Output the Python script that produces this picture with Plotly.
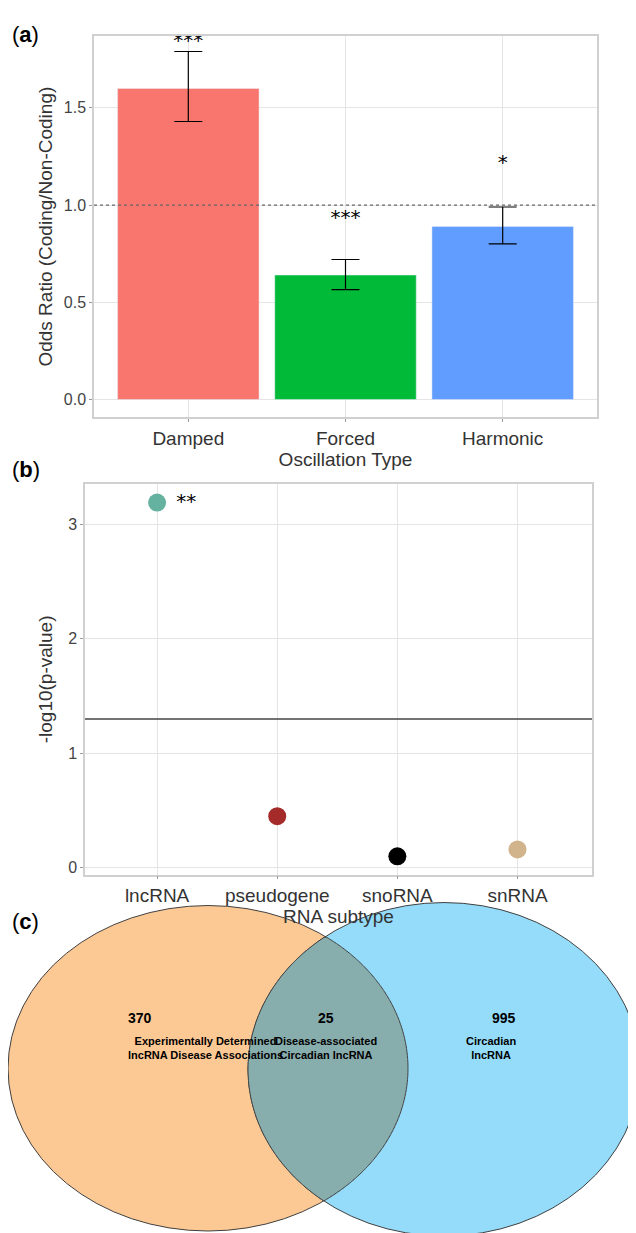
import numpy as np
import plotly.graph_objects as go

W, H = 636, 1233
# Panel a data
osc_types = ["Damped", "Forced", "Harmonic"]
odds = [1.60, 0.64, 0.89]
err_hi = [1.79, 0.72, 0.99]
err_lo = [1.43, 0.565, 0.80]
bar_colors = ["#F8766D", "#00BA38", "#619CFF"]
sig_a = ["***", "***", "*"]
sig_a_y = [1.84, 0.93, 1.21]

# Panel b data
subtypes = ["lncRNA", "pseudogene", "snoRNA", "snRNA"]
neglogp = [3.19, 0.45, 0.10, 0.16]
pt_colors = ["#66B2A0", "#A52A2A", "#000000", "#D2B48C"]
threshold = 1.3

# Panel c data
venn_counts = [370, 25, 995]
venn_labels = ["Experimentally Determined<br>lncRNA Disease Associations",
               "Disease-associated<br>Circadian lncRNA",
               "Circadian<br>lncRNA"]

def px(x): return x / W
def py(y): return 1 - y / H

FONT = "Liberation Sans"
fig = go.Figure()
fig.add_trace(go.Bar(x=osc_types, y=odds, marker_color=bar_colors, width=0.9,
                     error_y=dict(type="data", symmetric=False,
                                  array=[h - o for h, o in zip(err_hi, odds)],
                                  arrayminus=[o - l for l, o in zip(err_lo, odds)],
                                  color="black", thickness=1.2, width=14),
                     xaxis="x", yaxis="y", showlegend=False))
fig.add_trace(go.Scatter(x=osc_types, y=sig_a_y, mode="text", text=sig_a,
                         textfont=dict(size=20, color="black", family="DejaVu Sans"),
                         xaxis="x", yaxis="y", showlegend=False))
fig.add_trace(go.Scatter(x=subtypes, y=neglogp, mode="markers",
                         marker=dict(size=18, color=pt_colors),
                         xaxis="x2", yaxis="y2", showlegend=False))
fig.add_trace(go.Scatter(x=[subtypes[0]], y=[neglogp[0]], mode="text", text=["   **"],
                         textposition="middle right",
                         textfont=dict(size=20, color="black", family="DejaVu Sans"),
                         xaxis="x2", yaxis="y2", showlegend=False))

axcommon = dict(showgrid=True, gridcolor="#E5E5E5", gridwidth=1, showline=True, mirror=True,
                linecolor="#D0D0D0", linewidth=1.5, zeroline=False, ticks="outside",
                ticklen=3, tickcolor="#999", tickfont=dict(size=16, color="#444", family=FONT))
xtf = dict(size=19, color="#333", family=FONT)
ttf = dict(size=19, color="#333", family=FONT)
fig.update_layout(
    width=W, height=H, margin=dict(l=0, r=0, t=0, b=0),
    paper_bgcolor="white", plot_bgcolor="white", font=dict(family=FONT),
    xaxis=dict(axcommon, domain=[px(86), px(589)], range=[-0.6, 2.6], anchor="y",
               tickfont=xtf, title=dict(text="Oscillation Type", font=ttf, standoff=0)),
    yaxis=dict(axcommon, domain=[py(410), py(28)], range=[-0.092, 1.87], anchor="x",
               tickvals=[0, 0.5, 1.0, 1.5], ticktext=["0.0", "0.5", "1.0", "1.5"],
               title=dict(text="Odds Ratio (Coding/Non-Coding)", font=ttf, standoff=6)),
    xaxis2=dict(axcommon, domain=[px(77), px(584)], range=[-0.6, 3.62], anchor="y2",
                tickfont=xtf, title=dict(text="RNA subtype", font=ttf, standoff=0)),
    yaxis2=dict(axcommon, domain=[py(868), py(477)], range=[-0.06, 3.35], anchor="x2",
                tickvals=[0, 1, 2, 3],
                title=dict(text="-log10(p-value)", font=ttf, standoff=10)),
)
fig.add_shape(type="line", xref="x domain", x0=0, x1=1, yref="y", y0=1.0, y1=1.0,
              line=dict(color="#666", width=1.2, dash="dot"))
fig.add_shape(type="line", xref="x2 domain", x0=0, x1=1, yref="y2", y0=threshold, y1=threshold,
              line=dict(color="#444", width=1.5))

# Venn ellipses
e1 = (200, 1062, 200, 163)
e2 = (436, 1063, 196, 167)
for (cx, cy, rx, ry), col in [(e1, "#FCC995"), (e2, "#94DCFA")]:
    fig.add_shape(type="circle", xref="paper", yref="paper",
                  x0=px(cx - rx), x1=px(cx + rx), y0=py(cy + ry), y1=py(cy - ry),
                  fillcolor=col, line=dict(color="#404040", width=1))
t = np.linspace(0, 2 * np.pi, 720)
def inside(x, y, e):
    cx, cy, rx, ry = e
    return ((x - cx) / rx) ** 2 + ((y - cy) / ry) ** 2 <= 1
pts = []
for a, b in [(e1, e2), (e2, e1)]:
    xs = a[0] + a[2] * np.cos(t); ys = a[1] + a[3] * np.sin(t)
    m = inside(xs, ys, b)
    pts += list(zip(xs[m], ys[m]))
pts = np.array(pts)
c = pts.mean(axis=0)
pts = pts[np.argsort(np.arctan2(pts[:, 1] - c[1], pts[:, 0] - c[0]))]
path = "M " + " L ".join(f"{px(x):.5f},{py(y):.5f}" for x, y in pts) + " Z"
fig.add_shape(type="path", xref="paper", yref="paper", path=path,
              fillcolor="#88ADAD", line=dict(color="#404040", width=1))

venn_x = [118, 318, 510]
for xv, n, lab in zip(venn_x, venn_counts, venn_labels):
    fig.add_annotation(xref="paper", yref="paper", x=px(xv), y=py(1022), text=f"<b>{n}</b>",
                       showarrow=False, font=dict(size=14, color="black", family=FONT))
    fig.add_annotation(xref="paper", yref="paper", x=px(xv), y=py(1057), text=f"<b>{lab}</b>",
                       showarrow=False, font=dict(size=11, color="black", family=FONT))

for lab, y in [("a", 12), ("b", 462), ("c", 930)]:
    fig.add_annotation(xref="paper", yref="paper", x=px(2), y=py(y), xanchor="left",
                       text=f"(<b>{lab}</b>)", showarrow=False,
                       font=dict(size=22, color="black", family=FONT))

fig.write_html("out.html")
